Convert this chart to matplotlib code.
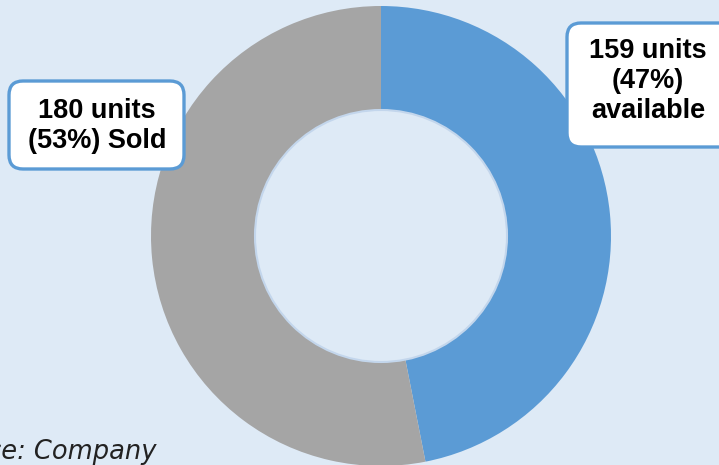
import matplotlib
matplotlib.use("Agg")
import matplotlib.pyplot as plt
from matplotlib.patches import FancyBboxPatch, Circle

# Data
categories = ["Available", "Sold"]
units = [159, 180]
labels = ["159 units\n(47%)\navailable", "180 units\n(53%) Sold"]
colors = ["#5B9BD5", "#A5A5A5"]
source_text = "Source: Company"

BG = "#DEEAF6"
W, H = 719, 465

fig = plt.figure(figsize=(W / 100, H / 100), dpi=100, facecolor=BG)
ax = fig.add_axes([0, 0, 1, 1])
ax.set_facecolor(BG)

cx, cy, R = 381, H - 236, 230
ring = 104

ax.pie(units, colors=colors, startangle=90, counterclock=False,
       center=(cx, cy), radius=R, frame=True,
       wedgeprops=dict(width=ring, edgecolor="none"))
ax.set_xlim(0, W)
ax.set_ylim(0, H)
ax.axis("off")

# subtle inner edge
ax.add_patch(Circle((cx, cy), R - ring, facecolor="none",
                    edgecolor="#C3D6EC", lw=1.5, zorder=3))

font = "Liberation Sans"

# label boxes
boxes = [
    (567, H - 147, 170, 124, 648, H - 81),  # available
    (9, H - 169, 175, 88, 97, H - 126),     # sold
]
for (bx, by, bw, bh, tx, ty), lab in zip(boxes, labels):
    p = FancyBboxPatch((bx, by), bw, bh,
                       boxstyle="round,pad=0,rounding_size=14",
                       facecolor="white", edgecolor="#5B9BD5", lw=2.4,
                       zorder=5)
    ax.add_patch(p)
    ax.text(tx, ty, lab, ha="center", va="center", fontsize=19.5,
            fontweight="bold", family=font, linespacing=1.22, zorder=6,
            color="black")

ax.text(156, H - 459, source_text, ha="right", va="baseline",
        fontsize=18.5, style="italic", family="DejaVu Sans", color="#222222")

fig.savefig("out.png", dpi=100, facecolor=BG)
